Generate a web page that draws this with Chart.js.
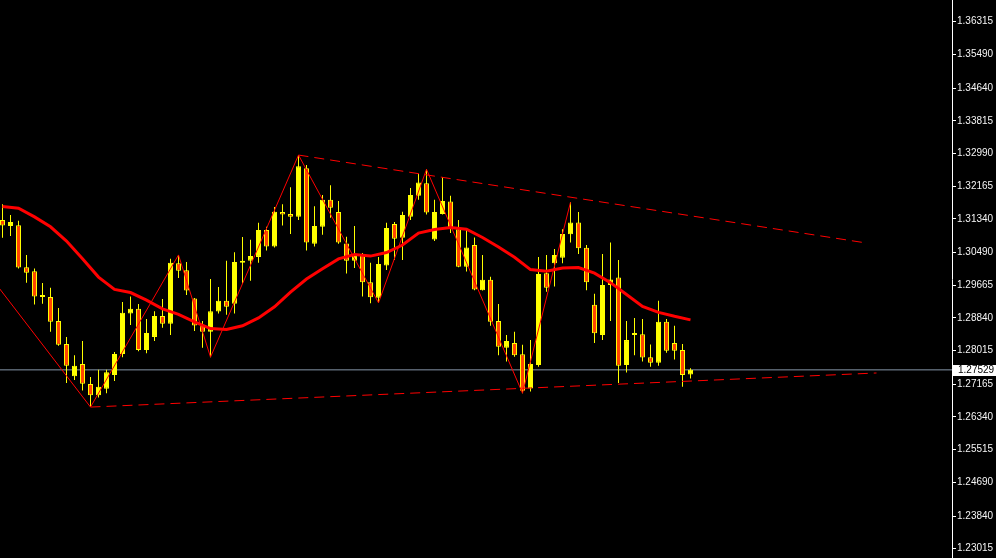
<!DOCTYPE html>
<html>
<head>
<meta charset="utf-8">
<title>Candles</title>
<script src="https://cdn.jsdelivr.net/npm/chart.js@4.4.0/dist/chart.umd.min.js"></script>
<style>
  html, body { margin: 0; padding: 0; background: #000; overflow: hidden; }
  canvas { display: block; }
</style>
</head>
<body>
<canvas id="chart" width="996" height="558"></canvas>
<script>
// OHLC per bar, left to right
const opens = [1.3131,1.3116,1.3118,1.3012,1.3002,1.2937,1.2937,1.2876,1.2818,1.2737,
  1.2768,1.2717,1.2689,1.2705,1.2740,1.2793,1.2895,1.2907,1.2803,1.2836,
  1.2889,1.2869,1.3022,1.3004,1.2933,1.2864,1.2849,1.2900,1.2927,1.2920,
  1.3023,1.3028,1.3038,1.3106,1.3064,1.3151,1.3146,1.3139,1.3262,1.3071,
  1.3114,1.3182,1.3151,1.3072,1.3028,1.3045,1.2974,1.2935,1.3016,1.3121,
  1.3086,1.3139,1.3192,1.3224,1.3082,1.3146,1.3178,1.3108,1.3013,1.3068,
  1.2954,1.2980,1.2876,1.2809,1.2821,1.2792,1.2706,1.2765,1.2997,1.3022,
  1.3036,1.3095,1.3125,1.3061,1.2917,1.2841,1.2967,1.2986,1.2765,1.2841,
  1.2843,1.2785,1.2771,1.2874,1.2821,1.2803,1.2741];
const highs = [1.3171,1.3144,1.3129,1.3043,1.3009,1.2972,1.2960,1.2909,1.2836,1.2790,
  1.2826,1.2735,1.2753,1.2753,1.2798,1.2924,1.2938,1.2919,1.2881,1.2901,
  1.2932,1.3033,1.3043,1.3025,1.2934,1.2876,1.2982,1.2962,1.3028,1.3050,
  1.3088,1.3081,1.3124,1.3114,1.3164,1.3171,1.3214,1.3295,1.3270,1.3166,
  1.3194,1.3219,1.3179,1.3089,1.3116,1.3048,1.3023,1.3038,1.3124,1.3126,
  1.3152,1.3212,1.3247,1.3259,1.3182,1.3239,1.3192,1.3131,1.3106,1.3087,
  1.3043,1.2988,1.2919,1.2841,1.2849,1.2816,1.2828,1.3038,1.3043,1.3058,
  1.3108,1.3176,1.3151,1.3068,1.2945,1.3045,1.3074,1.3030,1.2876,1.2884,
  1.2881,1.2817,1.2927,1.2881,1.2864,1.2818,1.2757];
const lows = [1.3086,1.3091,1.3009,1.2973,1.2918,1.2920,1.2849,1.2814,1.2720,1.2727,
  1.2701,1.2659,1.2683,1.2694,1.2725,1.2785,1.2866,1.2800,1.2795,1.2826,
  1.2859,1.2841,1.2985,1.2942,1.2851,1.2809,1.2785,1.2895,1.2892,1.2895,
  1.2970,1.2978,1.3023,1.3054,1.3062,1.3117,1.3096,1.3131,1.3054,1.3064,
  1.3094,1.3137,1.3071,1.2996,1.3010,1.2938,1.2921,1.2922,1.3005,1.3030,
  1.3030,1.3131,1.3182,1.3145,1.3078,1.3145,1.3098,1.3012,1.3001,1.2954,
  1.2953,1.2864,1.2790,1.2774,1.2786,1.2694,1.2698,1.2761,1.2950,1.2963,
  1.3022,1.3074,1.3045,1.2954,1.2821,1.2828,1.2876,1.2720,1.2746,1.2790,
  1.2774,1.2761,1.2763,1.2796,1.2779,1.2710,1.2731];
const closes = [1.3117,1.3126,1.3011,1.2998,1.2938,1.2942,1.2874,1.2816,1.2763,1.2763,
  1.2718,1.2689,1.2710,1.2747,1.2793,1.2897,1.2907,1.2803,1.2846,1.2889,
  1.2869,1.3023,1.3003,1.2953,1.2865,1.2849,1.2901,1.2927,1.2912,1.3025,
  1.3028,1.3040,1.3106,1.3064,1.3152,1.3145,1.3139,1.3267,1.3074,1.3116,
  1.3182,1.3162,1.3074,1.3028,1.3045,1.2974,1.2936,1.3020,1.3111,1.3084,
  1.3144,1.3194,1.3226,1.3150,1.3151,1.3179,1.3110,1.3013,1.3062,1.2956,
  1.2980,1.2874,1.2811,1.2826,1.2790,1.2700,1.2768,1.2995,1.2960,1.3043,
  1.3096,1.3125,1.3060,1.2974,1.2845,1.2967,1.2981,1.2763,1.2828,1.2846,
  1.2784,1.2771,1.2874,1.2801,1.2801,1.2740,1.27529];

// moving average, read every second bar (bar 0, 2, 4 ...)
const maVals = [1.3165,1.3161,1.3139,1.3114,1.3078,1.3033,1.2987,1.2956,1.2948,1.2929,
  1.2907,1.2893,1.2874,1.2857,1.2855,1.2864,1.2884,1.2912,1.2949,1.2982,
  1.3008,1.3033,1.3044,1.3040,1.3049,1.3068,1.3098,1.3107,1.3112,1.3108,
  1.3087,1.3063,1.3037,1.3006,1.3002,1.3010,1.3011,1.2997,1.2973,1.2943,
  1.2913,1.2898,1.2888,1.2879];

// zigzag swing points (bar index, price)
const zzIdx = [-3, 11, 22, 26, 37, 47, 53, 65, 71];
const zzVals = [1.3027, 1.2659, 1.3043, 1.2785, 1.3295, 1.2922, 1.3259, 1.2694, 1.3176];

// trend lines (bar index, price)
const upperIdx = [37, 108];
const upperVals = [1.3295, 1.3073];
const lowerIdx = [11, 109.25];
const lowerVals = [1.2659, 1.2745];

// price axis labels
const priceTicks = [1.36315, 1.35490, 1.34640, 1.33815, 1.32990, 1.32165, 1.31340, 1.30490,
  1.29665, 1.28840, 1.28015, 1.27165, 1.26340, 1.25515, 1.24690, 1.23840, 1.23015];

const lastPrice = closes[closes.length - 1];
const xMin = -0.3125, xMax = 118.6875;
const yMin = 1.22781, yMax = 1.36863;

const YELLOW = '#ffff00';
const BEAR = '#ff4500';
const RED = '#ff0000';

const wickData = opens.map((o, i) => ({ x: i, y: [lows[i], highs[i]] }));
const bodyData = opens.map((o, i) => ({ x: i, y: [o, closes[i]] }));
const bodyColors = opens.map((o, i) => closes[i] >= o ? YELLOW : BEAR);

const pairs = (xs, ys) => xs.map((x, k) => ({ x: x, y: ys[k] }));

const priceBox = {
    id: 'priceBox',
    beforeDraw(chart) {
        const ctx = chart.ctx;
        ctx.save();
        ctx.fillStyle = '#000';
        ctx.fillRect(0, 0, chart.width, chart.height);
        ctx.restore();
    },
    afterDraw(chart) {
        const ctx = chart.ctx;
        const y = chart.scales.y.getPixelForValue(lastPrice);
        const left = chart.chartArea.right + 1;
        ctx.save();
        ctx.fillStyle = '#ffffff';
        ctx.fillRect(left, Math.round(y) - 5, chart.width - left, 11);
        ctx.fillStyle = '#000';
        ctx.font = '10px "Liberation Sans"';
        ctx.textBaseline = 'middle';
        ctx.fillText(lastPrice.toFixed(5), left + 5, Math.round(y) + 0.5);
        ctx.restore();
    }
};

new Chart(document.getElementById('chart').getContext('2d'), {
    type: 'bar',
    data: {
        datasets: [{
            type: 'line',
            data: [{ x: xMin, y: lastPrice }, { x: xMax, y: lastPrice }],
            borderColor: '#8595a8',
            borderWidth: 1,
            pointRadius: 0,
            order: 6
        }, {
            data: wickData,
            backgroundColor: YELLOW,
            borderWidth: 0,
            barThickness: 1,
            grouped: false,
            inflateAmount: 0,
            order: 5
        }, {
            data: bodyData,
            backgroundColor: bodyColors,
            borderColor: YELLOW,
            borderWidth: 1,
            borderSkipped: false,
            barThickness: 5,
            grouped: false,
            inflateAmount: 0,
            order: 4
        }, {
            type: 'line',
            data: pairs(zzIdx, zzVals),
            borderColor: RED,
            borderWidth: 1,
            pointRadius: 0,
            order: 3
        }, {
            type: 'line',
            data: pairs(upperIdx, upperVals),
            borderColor: RED,
            borderWidth: 1,
            borderDash: [10, 6],
            pointRadius: 0,
            order: 3
        }, {
            type: 'line',
            data: pairs(lowerIdx, lowerVals),
            borderColor: RED,
            borderWidth: 1,
            borderDash: [10, 6],
            pointRadius: 0,
            order: 3
        }, {
            type: 'line',
            data: pairs(maVals.map((v, k) => k * 2), maVals),
            borderColor: RED,
            borderWidth: 3,
            pointRadius: 0,
            order: 1
        }]
    },
    options: {
        responsive: false,
        animation: false,
        events: [],
        layout: { padding: 0 },
        plugins: {
            legend: { display: false },
            tooltip: { enabled: false }
        },
        scales: {
            x: {
                type: 'linear',
                min: xMin,
                max: xMax,
                offset: false,
                display: false
            },
            y: {
                type: 'linear',
                position: 'right',
                min: yMin,
                max: yMax,
                afterBuildTicks: s => { s.ticks = priceTicks.map(v => ({ value: v })); },
                afterFit: s => { s.width = 44; s.paddingTop = 0; s.paddingBottom = 0; },
                ticks: {
                    color: '#f4f4f4',
                    font: { family: 'Liberation Sans', size: 10 },
                    padding: 1,
                    callback: v => v.toFixed(5)
                },
                grid: {
                    drawOnChartArea: false,
                    drawTicks: true,
                    tickLength: 4,
                    tickColor: '#ffffff',
                    color: '#ffffff'
                },
                border: { display: true, color: '#ffffff', width: 1 }
            }
        }
    },
    plugins: [priceBox]
});
</script>
</body>
</html>
